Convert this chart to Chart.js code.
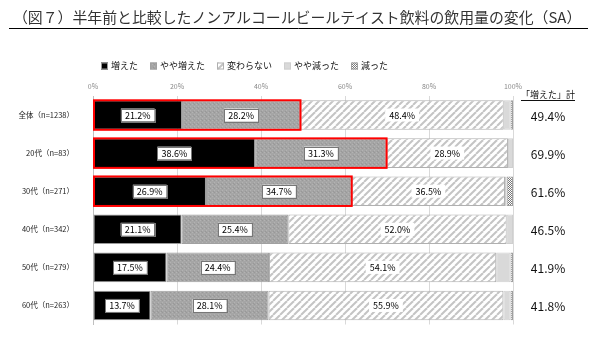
<!DOCTYPE html>
<html>
<head>
<meta charset="utf-8">
<script src="https://cdn.jsdelivr.net/npm/chart.js@4/dist/chart.umd.min.js"></script>
<style>
  html, body { margin: 0; padding: 0; background: #fff; }
  #wrap { width: 598px; height: 340px; position: relative; }
</style>
</head>
<body>
<div id="wrap"><canvas id="chart"></canvas></div>
<script>
const titleText = '（図７）半年前と比較したノンアルコールビールテイスト飲料の飲用量の変化（SA）';
const categories = ['全体（n=1238）', '20代（n=83）', '30代（n=271）', '40代（n=342）', '50代（n=279）', '60代（n=263）'];
const seriesNames = ['増えた', 'やや増えた', '変わらない', 'やや減った', '減った'];
const increased = [21.2, 38.6, 26.9, 21.1, 17.5, 13.7];
const slightlyIncreased = [28.2, 31.3, 34.7, 25.4, 24.4, 28.1];
const unchanged = [48.4, 28.9, 36.5, 52.0, 54.1, 55.9];
const slightlyDecreased = [1.6, 1.2, 0.4, 1.5, 3.4, 1.7];
const decreased = [0.6, 0, 1.5, 0, 0.6, 0.6];
const increasedTotal = [49.4, 69.9, 61.6, 46.5, 41.9, 41.8];
const totalHeader = '「増えた」計';
const xTicks = [0, 20, 40, 60, 80, 100];
const highlightRows = [0, 1, 2];

const FONT = '"Noto Sans CJK JP", "Noto Sans", sans-serif';

// small fill textures
function makePattern(size, paint) {
  const c = document.createElement('canvas');
  c.width = size; c.height = size;
  const g = c.getContext('2d');
  paint(g, size);
  return g.createPattern(c, 'repeat');
}

const dotGray = makePattern(4, (g) => {
  g.fillStyle = '#a5a5a5';
  g.fillRect(0, 0, 4, 4);
  g.fillStyle = '#b3b3b3';
  g.fillRect(0, 0, 1, 1);
  g.fillRect(2, 2, 1, 1);
  g.fillStyle = '#989898';
  g.fillRect(2, 0, 1, 1);
  g.fillRect(1, 3, 1, 1);
});

const stripes = makePattern(7, (g, s) => {
  g.fillStyle = '#fff';
  g.fillRect(0, 0, s, s);
  g.strokeStyle = '#c4c4c4';
  g.lineWidth = 2;
  for (let k = -1; k <= 1; k++) {
    g.beginPath();
    g.moveTo(k * s, s);
    g.lineTo(k * s + s, 0);
    g.stroke();
  }
});

const checker = makePattern(2, (g) => {
  g.fillStyle = '#fff';
  g.fillRect(0, 0, 2, 2);
  g.fillStyle = '#7a7a7a';
  g.fillRect(0, 0, 1, 1);
  g.fillRect(1, 1, 1, 1);
});

const fills = ['#000000', dotGray, stripes, '#d9d9d9', checker];
const borders = ['#9a9a9a', '#a0a0a0', '#b0b0b0', '#cfcfcf', '#a0a0a0'];
const values = [increased, slightlyIncreased, unchanged, slightlyDecreased, decreased];

const headerPlugin = {
  id: 'header',
  afterDraw(chart) {
    const ctx = chart.ctx;
    ctx.save();
    // title, fitted to the width
    let size = 14;
    ctx.font = size + 'px ' + FONT;
    const w = ctx.measureText(titleText).width;
    size = size * 569 / w;
    ctx.font = size + 'px ' + FONT;
    ctx.fillStyle = '#333';
    ctx.textBaseline = 'middle';
    ctx.textAlign = 'left';
    ctx.fillText(titleText, 13, 17);
    ctx.strokeStyle = '#000';
    ctx.lineWidth = 1;
    ctx.beginPath();
    ctx.moveTo(9, 28.5);
    ctx.lineTo(588, 28.5);
    ctx.stroke();

    // legend
    ctx.font = '9px ' + FONT;
    let x = 101;
    const ly = 66;
    chart.data.datasets.forEach((ds) => {
      ctx.fillStyle = ds.backgroundColor;
      ctx.fillRect(x, ly - 3.5, 7, 7);
      ctx.strokeStyle = ds.borderColor;
      ctx.strokeRect(x + 0.5, ly - 3, 6, 6);
      ctx.fillStyle = '#111';
      ctx.fillText(ds.label, x + 10, ly);
      x += 10 + ctx.measureText(ds.label).width + 12;
    });
    ctx.restore();
  }
};

const barLabelPlugin = {
  id: 'barLabels',
  afterDatasetsDraw(chart) {
    const ctx = chart.ctx;
    const xs = chart.scales.x, ys = chart.scales.y;
    ctx.save();
    ctx.font = '9px ' + FONT;
    ctx.textAlign = 'center';
    ctx.textBaseline = 'middle';

    // red frame around 増えた + やや増えた
    const bar0 = chart.getDatasetMeta(0).data[0];
    const half = bar0.height / 2;
    ctx.strokeStyle = '#ff0000';
    ctx.lineWidth = 2;
    highlightRows.forEach((i) => {
      const y = ys.getPixelForValue(i);
      const x1 = xs.getPixelForValue(increased[i] + slightlyIncreased[i]);
      ctx.strokeRect(xs.left + 1, y - half, x1 - xs.left - 1, half * 2);
    });

    [0, 1, 2].forEach((d) => {
      chart.getDatasetMeta(d).data.forEach((bar, i) => {
        const txt = values[d][i].toFixed(1) + '%';
        const cx = (bar.x + bar.base) / 2;
        const tw = ctx.measureText(txt).width;
        const bw = tw + 8, bh = 13;
        ctx.fillStyle = '#fff';
        ctx.fillRect(cx - bw / 2, bar.y - bh / 2, bw, bh);
        if (d < 2) {
          ctx.strokeStyle = '#777';
          ctx.lineWidth = 1;
          ctx.strokeRect(Math.round(cx - bw / 2) + 0.5, Math.round(bar.y - bh / 2) + 0.5, Math.round(bw), bh);
        }
        ctx.fillStyle = '#000';
        ctx.fillText(txt, cx, bar.y + 0.5);
      });
    });

    // right column
    const rx = 548;
    ctx.font = '9px ' + FONT;
    ctx.fillStyle = '#111';
    ctx.fillText(totalHeader, rx, 95);
    const hw = ctx.measureText(totalHeader).width;
    ctx.strokeStyle = '#111';
    ctx.lineWidth = 1;
    ctx.beginPath();
    ctx.moveTo(rx - hw / 2, 100.5);
    ctx.lineTo(rx + hw / 2, 100.5);
    ctx.stroke();
    ctx.font = '12px ' + FONT;
    increasedTotal.forEach((v, i) => {
      ctx.fillText(v.toFixed(1) + '%', rx, ys.getPixelForValue(i) + 1);
    });
    ctx.restore();
  }
};

new Chart(document.getElementById('chart'), {
  type: 'bar',
  data: {
    labels: categories,
    datasets: seriesNames.map((name, k) => ({
      label: name,
      data: values[k],
      backgroundColor: fills[k],
      borderColor: borders[k],
      borderWidth: 1,
      borderSkipped: false,
      barPercentage: 0.775,
      categoryPercentage: 1
    }))
  },
  options: {
    indexAxis: 'y',
    responsive: true,
    maintainAspectRatio: false,
    animation: false,
    layout: { padding: { top: 82, right: 85, bottom: 11, left: 0 } },
    plugins: {
      legend: { display: false },
      tooltip: { enabled: false }
    },
    scales: {
      x: {
        position: 'top',
        stacked: true,
        min: 0,
        max: 100,
        afterBuildTicks(scale) {
          scale.ticks = xTicks.map(v => ({ value: v }));
        },
        afterFit(scale) { scale.height = 14; },
        ticks: {
          padding: 5,
          color: '#8a8a8a',
          font: { family: FONT, size: 7 },
          callback: v => v + '%'
        },
        grid: { color: '#d9d9d9', drawTicks: false },
        border: { display: false }
      },
      y: {
        stacked: true,
        afterFit(scale) { scale.width = 93; },
        ticks: {
          padding: 11,
          color: '#222',
          font: { family: FONT, size: 7.5 }
        },
        grid: { display: false },
        border: { display: true, color: '#bfbfbf' }
      }
    }
  },
  plugins: [headerPlugin, barLabelPlugin]
});
</script>
</body>
</html>
